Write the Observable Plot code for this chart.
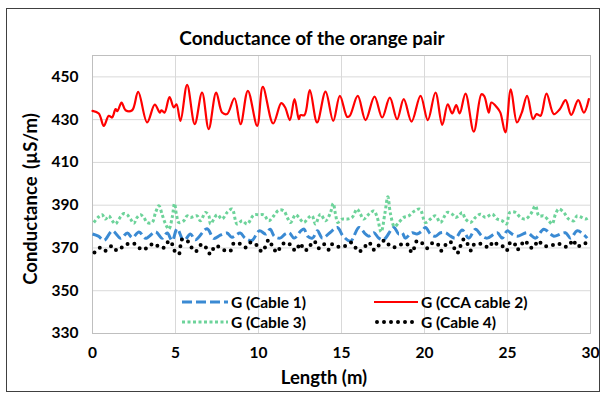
<!DOCTYPE html>
<html><head><meta charset="utf-8">
<script src="https://cdn.jsdelivr.net/npm/d3@7"></script>
<script src="https://cdn.jsdelivr.net/npm/@observablehq/plot@0.6"></script>
<style>
body{margin:0;background:#fff;font-family:Lato,"Open Sans",sans-serif;}
#wrap{position:relative;width:601px;height:394px;overflow:hidden;background:#fff;}
#frame{position:absolute;left:6px;top:8px;width:594px;height:384px;border:1px solid #404040;box-sizing:border-box;}
#chart{position:absolute;left:0;top:0;}
.t{position:absolute;font-weight:bold;color:#000;white-space:pre;line-height:1;}
#title{left:312px;top:37px;font-size:19px;transform:translate(-50%,-50%);}
#ylab{left:30px;top:199px;font-size:18.5px;word-spacing:3px;transform:translate(-50%,-50%) rotate(-90deg);}
#xlab{left:324px;top:377px;font-size:18.5px;transform:translate(-50%,-50%);}
.leg{position:absolute;display:flex;align-items:center;font-weight:bold;font-size:15.5px;white-space:nowrap;}
.leg svg{margin-right:3px;}
</style></head>
<body>
<div id="wrap">
  <div id="frame"></div>
  <div id="chart"></div>
  <div class="t" id="title">Conductance of the orange pair</div>
  <div class="t" id="ylab">Conductance (µS/m)</div>
  <div class="t" id="xlab">Length (m)</div>
  <div id="legend"></div>
</div>
<script>
const seriesNames = ["G (Cable 1)", "G (CCA cable 2)", "G (Cable 3)", "G (Cable 4)"];
const xTicks = [0, 5, 10, 15, 20, 25, 30];
const yTicks = [330, 350, 370, 390, 410, 430, 450];

const cable2Length = [0,0.38,0.68,0.98,1.18,1.39,1.5,1.75,1.99,2.39,2.75,3.29,3.75,4.06,4.15,4.34,4.64,4.9,5.06,5.3,5.7,6.16,6.6,7.0,7.45,7.81,8.11,8.55,8.92,9.36,9.92,10.26,10.88,11.37,11.6,11.89,12.17,12.43,12.53,12.77,13.09,13.53,14.04,14.5,14.9,15.34,15.5,15.98,16.45,16.99,17.45,17.91,18.35,18.75,19.22,19.76,20.2,20.66,21.07,21.4,21.67,21.91,22.12,22.47,22.97,23.43,23.6,23.87,24.03,24.37,24.57,24.87,25.2,25.57,25.86,26.18,26.54,26.75,26.99,27.35,27.79,28.15,28.5,28.84,29.26,29.6,29.9];
const cable2G = [434.1,432.9,427.1,431.8,431,434.9,434,438,434.4,434.4,443,428.7,437,433.3,434.4,433.3,440.6,435.7,437.2,429.4,446.3,427.9,442.7,425.6,442.7,433.3,432.6,440,427.9,443.5,427.1,445.3,428.2,437.7,435.8,429.8,439.6,430.2,432.1,432.1,443.8,428.7,443.1,429.4,441.1,431.3,431.8,441.1,429.8,440.8,431,440.3,430.2,439.6,429.1,441.1,429.8,442.7,427.6,437.2,432.9,436.8,432.9,442.2,424.4,441.9,441,433.3,438,435.7,433.3,424,444.2,428.7,433.3,441.1,430.2,432.6,431.8,442.2,432.6,434.9,439.1,432.2,439.1,433.3,439.6];

const cable1Length = [0,0.35,0.7,1.2,1.7,2.1,2.4,2.8,3.2,3.8,4.2,4.5,4.8,5.1,5.5,5.9,6.2,6.9,7.3,7.7,8.1,8.4,8.9,9.2,9.6,10.05,10.45,10.7,10.95,11.3,11.6,11.85,12.15,12.55,12.75,12.95,13.25,13.55,13.85,14.3,14.75,15.1,15.55,16.05,16.45,16.65,16.95,17.25,17.55,18.15,18.45,18.65,18.85,19.25,19.55,19.85,20.06,20.36,20.66,20.96,21.27,21.57,21.87,22.27,22.67,23.07,23.47,23.78,24.38,24.68,24.98,25.28,25.58,26.19,26.49,26.69,27.19,27.59,27.79,28.49,28.8,29.2,29.6,29.8];
const cable1G = [376.5,375.5,373.6,378,374.5,377,374.8,377.5,374.5,377.5,374.5,377,373.4,379,373.4,376.5,373.8,379,374.5,376,377,375,377,374.5,373.5,378,376.5,378.8,375.5,374.6,376.5,377.1,374.6,378,378.8,375.5,374.6,378,374.6,377.1,379.6,375.5,373.2,379.6,376.5,375.5,377.1,374.6,373.9,379.6,376.5,377.1,374.6,377.1,376.5,378,379.6,376.5,375.5,377.1,377.1,375.5,374.6,378.4,374.6,378.8,375.5,374.6,377.1,374.6,378,376.5,375.5,377.1,375.5,374.6,378.8,376.5,375.5,377.1,374.6,378,376.2,374.6];

const cable3Length = [0.08,0.38,0.58,0.78,0.98,1.19,1.39,1.59,1.89,2.09,2.29,2.49,2.69,2.89,3.09,3.29,3.59,3.8,4.0,4.2,4.4,4.6,4.8,4.94,5.06,5.2,5.5,5.7,5.9,6.3,6.5,6.81,7.01,7.11,7.51,7.81,8.11,8.41,8.71,9.02,9.32,9.72,10.02,10.32,10.62,10.92,11.22,11.53,11.73,11.93,12.23,12.43,12.73,13.03,13.23,13.43,13.73,14.04,14.34,14.5,14.64,14.78,15.04,15.34,15.64,15.94,16.14,16.34,16.65,16.95,17.15,17.39,17.61,17.79,17.95,18.19,18.45,18.75,19.05,19.4,19.72,20.06,20.36,20.66,20.96,21.37,21.67,21.87,22.07,22.27,22.47,22.77,23.07,23.37,23.67,24.08,24.38,24.68,24.94,25.14,25.48,25.78,26.08,26.39,26.69,26.89,27.19,27.49,27.69,27.89,28.09,28.39,28.69,28.99,29.19,29.39,29.7,29.9];
const cable3G = [381.9,384.6,385.5,383.5,385,382.7,381.2,383.5,386.1,385.5,383.5,381.5,384.3,385.5,384.3,381.9,381.9,386.6,389.7,385.5,381.2,378.8,384.3,390.8,385.5,381.9,382.7,385,384.3,385,382.7,386.6,385,381.2,385.5,383.5,386.6,388.2,381.2,382.7,381.2,385.5,385.5,385.5,382.7,385,387.7,387.3,384.3,381.9,385.5,384.3,381.9,384.3,385,381.2,385.8,382.7,386.6,390.8,385.8,381.9,383.5,383.5,384.3,388.2,385.8,383.5,385.8,387.3,384.3,377.5,386,393.9,386,380,381.9,384.3,385,387.3,388.2,381.9,383.5,385,381.9,386.6,385.8,384.3,385,386.6,383.5,381.9,384.3,385.8,384.3,385.8,383.5,382.7,381.2,386.6,386.6,384.3,383.5,385.8,389.7,385,385,382.7,381.2,385.8,388.2,386.6,383.5,382.7,385,384.6,383.5,384.3];

const cable4Length = [0.12,0.48,0.78,1.19,1.49,1.89,2.25,2.59,2.99,3.39,3.69,4.1,4.4,4.6,4.8,5.0,5.2,5.4,5.7,5.9,6.2,6.6,6.9,7.1,7.41,8.01,8.31,8.51,8.81,9.22,9.52,9.82,10.22,10.62,10.82,11.12,11.33,11.63,11.93,12.23,12.53,12.73,13.03,13.23,13.43,13.63,13.94,14.24,14.44,14.78,15.14,15.54,15.74,16.04,16.34,16.65,16.95,17.15,17.35,17.65,17.95,18.35,18.65,18.95,19.25,19.56,19.86,20.16,20.46,20.76,21.0,21.27,21.53,21.77,21.97,22.17,22.37,22.57,22.81,23.01,23.47,23.88,24.14,24.42,24.68,24.94,25.14,25.38,25.58,25.78,26.08,26.28,26.59,26.83,27.19,27.59,28.03,28.39,28.69,28.95,29.19,29.6,29.9];
const cable4G = [367.9,370.2,368.7,371,368.7,371,372.2,371.8,369.1,370.6,372.2,370,370.6,373.4,371.8,367.9,367.1,374.1,373.4,371,368.3,371.8,369.5,367.1,371,368.7,368.7,372.2,372.2,370.2,372.6,371.8,368.3,373.8,371,367.9,370.6,372.6,371.4,368.7,372.2,369.1,369.5,372.9,372.6,369.9,371.8,369.1,371.8,370.6,370.6,372.6,371.4,368.3,369.9,372.6,369.1,369.9,372.6,373.4,370.6,370.6,371.8,371.8,367.9,373.4,372.2,369.9,372.2,372.2,368.7,371.4,373,370.2,367.5,371,374.1,372.2,368.7,371.8,371.8,370.2,373,371.4,371,368.7,372.2,372.6,369.1,371,373.4,370.6,370.2,373.4,371,371,372.2,370.6,371,373.8,370.6,372.2,371.8];

const styles = [
  {stroke:"#3a8ad3", strokeWidth:3, strokeDasharray:"10,4", strokeLinecap:"butt"},
  {stroke:"#ff0000", strokeWidth:2.2},
  {stroke:"#6dd39a", strokeWidth:3, strokeDasharray:"3,2.5", strokeLinecap:"butt"},
  {stroke:"#000000", strokeWidth:4, strokeDasharray:"0,7", strokeLinecap:"round"}
];
const toRows = (L, G) => L.map((l, i) => ({length: l, g: G[i]}));
const data = [toRows(cable1Length, cable1G), toRows(cable2Length, cable2G), toRows(cable3Length, cable3G), toRows(cable4Length, cable4G)];

const chart = Plot.plot({
  width: 601, height: 394,
  marginLeft: 92, marginRight: 11, marginTop: 55, marginBottom: 61,
  style: {fontFamily: "Lato, 'Open Sans', sans-serif", fontSize: "15.5px", fontWeight: "bold", color: "#000", background: "transparent"},
  x: {domain: [0, 30]},
  y: {domain: [330, 460]},
  marks: [
    Plot.gridX(xTicks, {stroke: "#d9d9d9", strokeOpacity: 1}),
    Plot.gridY(yTicks, {stroke: "#d9d9d9", strokeOpacity: 1}),
    Plot.frame({stroke: "#bfbfbf"}),
    Plot.axisX(xTicks, {tickSize: 0, tickPadding: 13, label: null, fill: "#000"}),
    Plot.axisY(yTicks, {tickSize: 0, tickPadding: 14, label: null, fill: "#000"}),
    ...data.map((d, i) => Plot.line(d, {x: "length", y: "g", curve: "catmull-rom", ...styles[i]}))
  ]
});
document.getElementById("chart").appendChild(chart);

// legend
const legendPos = [[182, 302], [374, 302], [182, 322], [374, 322]];
const sampleW = [46, 44, 46, 44];
const leg = document.getElementById("legend");
seriesNames.forEach((name, i) => {
  const div = document.createElement("div");
  div.className = "leg";
  div.style.left = legendPos[i][0] + "px";
  div.style.top = (legendPos[i][1] - 10) + "px";
  div.style.height = "20px";
  const s = styles[i];
  const w = sampleW[i];
  div.innerHTML = `<svg width="${w}" height="20"><line x1="${i===3?3:0}" x2="${w}" y1="10" y2="10" stroke="${s.stroke}" stroke-width="${s.strokeWidth}" ${s.strokeDasharray ? `stroke-dasharray="${s.strokeDasharray}"` : ""} stroke-linecap="${s.strokeLinecap || "butt"}"/></svg><span>${name}</span>`;
  leg.appendChild(div);
});
</script>
</body></html>
